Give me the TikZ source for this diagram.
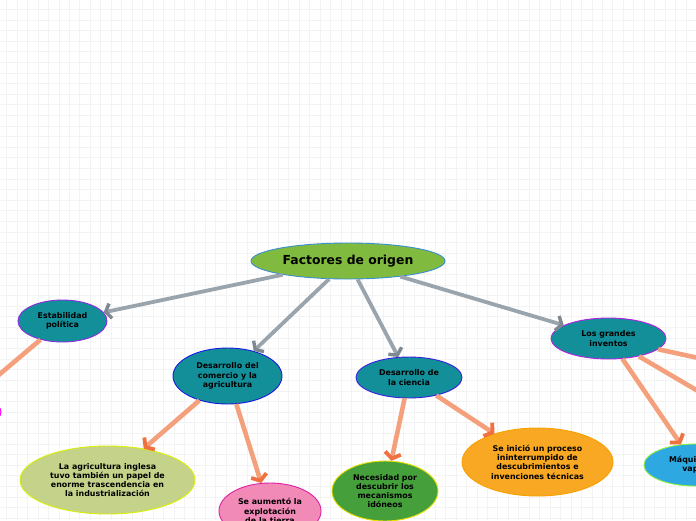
\documentclass[tikz,border=0pt]{standalone}
\usepackage{fontspec}
\setmainfont{DejaVu Sans}
\usetikzlibrary{shapes.geometric,arrows.meta}
\definecolor{gridc}{HTML}{F3F3F3}
\definecolor{linegray}{HTML}{9AA4AC}
\definecolor{headgray}{HTML}{7D8890}
\definecolor{lineorange}{HTML}{F5A07C}
\definecolor{headorange}{HTML}{F07040}
\definecolor{topfill}{HTML}{80BB3F}
\definecolor{topdraw}{HTML}{3A8FD0}
\definecolor{teal}{HTML}{138F9A}
\definecolor{purp}{HTML}{8B2BE0}
\definecolor{blu}{HTML}{1A1AE0}
\definecolor{bluv}{HTML}{3A1EE0}
\definecolor{magp}{HTML}{B020E0}
\definecolor{agrifill}{HTML}{C5D38A}
\definecolor{yelg}{HTML}{D8F000}
\definecolor{pinkfill}{HTML}{F28AB8}
\definecolor{pinkdraw}{HTML}{E020A0}
\definecolor{greenfill}{HTML}{45A03C}
\definecolor{yel}{HTML}{E8E000}
\definecolor{orfill}{HTML}{F8A823}
\definecolor{ordraw}{HTML}{F8A000}
\definecolor{bluefill}{HTML}{2EA8E0}
\definecolor{ltgreen}{HTML}{90F040}
\definecolor{mag}{HTML}{FF00FF}
\tikzset{
  bub/.style={ellipse, draw, line width=0.9pt, inner sep=0pt, align=center,
    font=\bfseries\fontsize{7.9}{9.3}\selectfont, text=black},
  gline/.style={draw=linegray, line width=3.8pt,
    -{Straight Barb[length=5pt,width=15pt,line width=3.4pt,color=headgray]}},
  oline/.style={draw=lineorange, line width=4.6pt,
    -{Straight Barb[length=5.5pt,width=16pt,line width=3.8pt,color=headorange]}},
  oplain/.style={draw=lineorange, line width=4.6pt},
}
\begin{document}
\begin{tikzpicture}[x=1pt,y=-1pt]
\useasboundingbox (0,0) rectangle (696,520);
\clip (0,0) rectangle (696,520);
\fill[white] (0,0) rectangle (696,520);
\foreach \i in {0,...,66} {\draw[gridc, line width=0.8pt] (6.7+10.45*\i,0) -- (6.7+10.45*\i,520);}
\foreach \j in {0,...,49} {\draw[gridc, line width=0.8pt] (0,9.3+10.6*\j) -- (696,9.3+10.6*\j);}

\node[bub, fill=topfill, draw=topdraw, minimum width=194pt, minimum height=36pt,
  font=\bfseries\fontsize{12.4}{14}\selectfont] (top) at (348,261) {Factores de origen};
\node[bub, fill=teal, draw=purp, minimum width=89pt, minimum height=42pt] (estab) at (62.5,321) {Estabilidad\\política};
\node[bub, fill=teal, draw=blu, minimum width=109pt, minimum height=56pt] (comer) at (227.5,376) {Desarrollo del\\comercio y la\\agricultura};
\node[bub, fill=teal, draw=bluv, minimum width=106pt, minimum height=41pt] (cien) at (409,377.5) {Desarrollo de\\la ciencia};
\node[bub, fill=teal, draw=magp, minimum width=115pt, minimum height=41pt] (inv) at (608.5,338.5) {Los grandes\\inventos};
\node[bub, fill=agrifill, draw=yelg, minimum width=175pt, minimum height=68pt] (agri) at (107.5,480) {La agricultura inglesa\\tuvo también un papel de\\enorme trascendencia en\\la industrialización};
\node[bub, fill=pinkfill, draw=pinkdraw, minimum width=102pt, minimum height=56pt] (aum) at (270,511) {Se aumentó la\\explotación\\de la tierra};
\node[bub, fill=greenfill, draw=yel, minimum width=106pt, minimum height=60pt] (nec) at (385,491) {Necesidad por\\descubrir los\\mecanismos\\idóneos};
\node[bub, fill=orfill, draw=ordraw, minimum width=151pt, minimum height=68pt] (ini) at (537.5,462) {Se inició un proceso\\ininterrumpido de\\descubrimientos e\\invenciones técnicas};
\node[bub, fill=bluefill, draw=ltgreen, minimum width=102pt, minimum height=42pt] (maq) at (695,465) {Máquina de\\vapor};
\node[bub, fill=pinkfill, draw=mag, minimum width=92pt, minimum height=36pt] (left) at (-45,412) {};
\coordinate (r1) at (800,380);
\coordinate (r2) at (790,445);

\draw[gline] (top) -- (estab);
\draw[gline] (top) -- (comer);
\draw[gline] (top) -- (cien);
\draw[gline] (top) -- (inv);
\draw[oline] (estab) -- (left);
\draw[oline] (comer) -- (agri);
\draw[oline] (comer) -- (aum);
\draw[oline] (cien) -- (nec);
\draw[oline] (cien) -- (ini);
\draw[oline] (inv) -- (maq);
\draw[oplain] (inv) -- (r1);
\draw[oplain] (inv) -- (r2);
\end{tikzpicture}
\end{document}
